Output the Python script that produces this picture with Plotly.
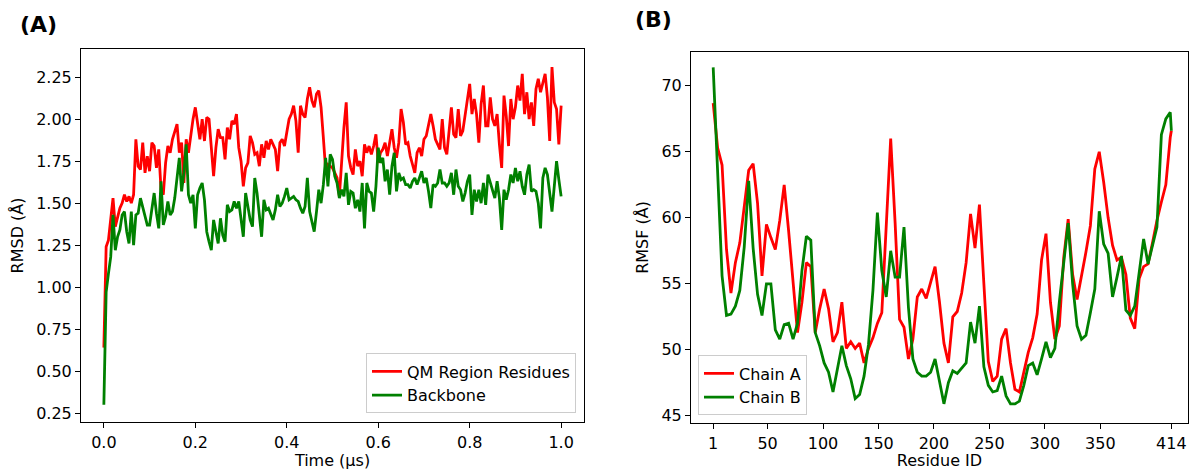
import plotly.graph_objects as go

# ---------------- data: RMSD (panel A) ----------------
time_us = [round(i * 0.005, 3) for i in range(201)]

rmsd_qm = [
    0.64, 1.24, 1.28, 1.42, 1.53, 1.36, 1.42, 1.47, 1.50, 1.55, 1.51, 1.54, 1.50, 1.55, 1.88, 1.72, 1.70, 1.86, 1.68, 1.78,
    1.69, 1.86, 1.84, 1.71, 1.82, 1.58, 1.55, 1.74, 1.84, 1.80, 1.88, 1.92, 1.97, 1.80, 1.86, 1.62, 1.88, 1.80, 1.91, 2.00,
    2.07, 1.98, 1.88, 2.00, 1.87, 2.01, 2.00, 1.83, 1.66, 1.83, 1.94, 1.89, 1.89, 1.76, 1.95, 1.88, 1.99, 1.97, 2.03, 1.83,
    1.75, 1.60, 1.71, 1.74, 1.90, 1.86, 1.79, 1.80, 1.72, 1.85, 1.77, 1.87, 1.82, 1.88, 1.85, 1.82, 1.69, 1.86, 1.88, 1.84,
    1.92, 2.00, 2.03, 2.08, 1.99, 1.80, 2.08, 2.03, 2.01, 2.12, 2.19, 2.11, 2.07, 2.15, 2.17, 2.07, 1.89, 1.70, 1.73, 1.72,
    1.71, 1.68, 1.65, 1.54, 1.75, 1.95, 2.10, 1.78, 1.71, 1.67, 1.82, 1.72, 1.75, 1.66, 1.85, 1.80, 1.84, 1.79, 1.84, 1.91,
    1.74, 1.80, 1.82, 1.86, 1.78, 1.86, 1.94, 1.83, 1.77, 1.86, 2.06, 1.98, 1.85, 1.86, 1.78, 1.73, 1.68, 1.80, 1.83, 1.78,
    1.88, 1.90, 1.96, 2.03, 1.96, 1.88, 1.85, 1.82, 2.00, 1.83, 1.79, 1.93, 2.07, 1.91, 1.89, 2.06, 1.90, 1.93, 2.02, 2.13,
    2.21, 2.03, 2.12, 2.03, 1.86, 2.09, 2.20, 1.96, 1.96, 2.13, 2.00, 1.96, 2.03, 1.85, 1.71, 2.14, 2.02, 1.84, 2.12, 2.00,
    2.07, 2.20, 2.11, 2.27, 2.03, 2.16, 2.00, 2.10, 1.96, 2.18, 2.24, 2.16, 2.22, 2.27, 2.13, 1.87, 2.31, 2.10, 2.06, 1.85,
    2.08,
]

rmsd_backbone = [
    0.30, 0.97, 1.08, 1.18, 1.43, 1.22, 1.30, 1.34, 1.43, 1.45, 1.33, 1.26, 1.45, 1.25, 1.43, 1.44, 1.53, 1.48, 1.42, 1.37,
    1.37, 1.48, 1.56, 1.44, 1.35, 1.63, 1.37, 1.42, 1.51, 1.43, 1.45, 1.53, 1.64, 1.77, 1.57, 1.68, 1.85, 1.55, 1.50, 1.55,
    1.35, 1.55, 1.59, 1.62, 1.52, 1.33, 1.27, 1.22, 1.40, 1.33, 1.26, 1.41, 1.31, 1.27, 1.49, 1.45, 1.46, 1.51, 1.47, 1.51,
    1.40, 1.30, 1.56, 1.47, 1.40, 1.36, 1.65, 1.56, 1.43, 1.30, 1.52, 1.46, 1.47, 1.43, 1.40, 1.46, 1.55, 1.48, 1.50, 1.54,
    1.59, 1.52, 1.53, 1.54, 1.52, 1.51, 1.47, 1.44, 1.48, 1.65, 1.45, 1.38, 1.33, 1.45, 1.58, 1.50, 1.61, 1.77, 1.60, 1.79,
    1.76, 1.66, 1.62, 1.53, 1.58, 1.54, 1.68, 1.49, 1.57, 1.56, 1.47, 1.52, 1.45, 1.62, 1.35, 1.62, 1.57, 1.56, 1.45, 1.60,
    1.83, 1.74, 1.77, 1.63, 1.70, 1.55, 1.72, 1.80, 1.57, 1.68, 1.64, 1.65, 1.61, 1.61, 1.59, 1.63, 1.65, 1.61, 1.65, 1.69,
    1.62, 1.65, 1.57, 1.47, 1.61, 1.60, 1.62, 1.70, 1.62, 1.62, 1.60, 1.62, 1.68, 1.55, 1.70, 1.60, 1.58, 1.51, 1.56, 1.63,
    1.67, 1.43, 1.58, 1.51, 1.58, 1.50, 1.62, 1.49, 1.67, 1.62, 1.58, 1.53, 1.63, 1.53, 1.34, 1.58, 1.52, 1.58, 1.67, 1.62,
    1.71, 1.63, 1.69, 1.60, 1.55, 1.67, 1.73, 1.57, 1.58, 1.57, 1.50, 1.35, 1.65, 1.71, 1.67, 1.55, 1.45, 1.60, 1.75, 1.64,
    1.54,
]

# ---------------- data: RMSF (panel B) ----------------
residue_id = list(range(1, 414, 4)) + [414]

rmsf_chain_a = [
    68.7, 65.3, 64.0, 57.6, 54.3, 56.6, 58.1, 60.8, 63.6, 64.1,
    61.1, 55.6, 59.5, 58.5, 57.6, 59.8, 62.5, 59.0, 55.1, 51.3,
    53.6, 56.6, 56.3, 51.3, 53.1, 54.6, 53.1, 50.6, 51.3, 53.6,
    50.1, 50.6, 50.1, 50.5, 49.0, 50.1, 50.9, 52.0, 52.8, 59.5,
    66.0, 59.6, 52.3, 51.7, 49.3, 50.8, 54.0, 54.6, 53.9, 55.1,
    56.3, 53.6, 50.5, 49.0, 52.5, 52.9, 54.3, 56.6, 60.3, 57.7,
    61.0, 55.0, 49.1, 47.6, 48.0, 50.8, 51.6, 49.0, 47.0, 46.8,
    48.3, 49.8, 50.9, 52.7, 56.8, 58.8, 53.6, 50.8, 51.8, 57.0,
    59.9, 55.7, 53.8, 55.5, 57.4, 59.4, 63.7, 65.0, 62.7, 60.0,
    57.9, 56.8, 57.0, 55.7, 52.4, 51.6, 55.4, 56.3, 56.5, 58.1,
    59.8, 61.2, 62.5, 66.1, 66.6,
]

rmsf_chain_b = [
    71.4, 64.0, 55.6, 52.6, 52.7, 53.3, 54.5, 57.8, 62.8, 57.7,
    54.2, 52.6, 55.0, 55.0, 51.5, 50.8, 51.9, 52.0, 50.8, 52.0,
    56.0, 58.6, 58.3, 51.3, 50.3, 49.0, 48.3, 46.8, 48.5, 50.3,
    48.8, 47.8, 46.3, 46.6, 48.0, 50.4, 54.5, 60.4, 56.0, 54.0,
    57.5, 55.5, 55.5, 59.3, 53.2, 49.3, 48.3, 48.0, 48.0, 48.3,
    49.3, 47.5, 45.9, 47.5, 48.4, 48.2, 48.6, 49.0, 52.1, 50.5,
    53.3, 48.7, 47.3, 46.8, 46.9, 48.0, 46.5, 45.9, 45.9, 46.1,
    47.3, 48.8, 49.0, 48.1, 49.3, 50.6, 49.4, 50.1, 53.6, 56.4,
    59.6, 55.0, 51.8, 50.8, 51.1, 52.8, 54.6, 60.5, 58.0, 57.3,
    54.0, 55.5, 57.1, 53.0, 52.6, 53.3, 55.9, 58.4, 56.5, 58.0,
    59.3, 66.3, 67.5, 68.0, 66.6,
]

rmsd_ticks = [0.25, 0.50, 0.75, 1.00, 1.25, 1.50, 1.75, 2.00, 2.25]
time_ticks = [0.0, 0.2, 0.4, 0.6, 0.8, 1.0]
rmsf_ticks = [45, 50, 55, 60, 65, 70]
residue_ticks = [1, 50, 100, 150, 200, 250, 300, 350, 414]

assert len(time_us) == len(rmsd_qm) == len(rmsd_backbone)
assert len(residue_id) == len(rmsf_chain_a) == len(rmsf_chain_b)

# ---------------- figure ----------------
W, H = 1191, 470
RED, GREEN = "#ff0000", "#008000"
FONT = "DejaVu Sans"
LW = 2.8

fig = go.Figure()
fig.add_trace(go.Scatter(x=time_us, y=rmsd_qm, mode="lines", name="QM Region Residues",
                         line=dict(color=RED, width=LW), xaxis="x", yaxis="y", legend="legend"))
fig.add_trace(go.Scatter(x=time_us, y=rmsd_backbone, mode="lines", name="Backbone",
                         line=dict(color=GREEN, width=LW), xaxis="x", yaxis="y", legend="legend"))
fig.add_trace(go.Scatter(x=residue_id, y=rmsf_chain_a, mode="lines", name="Chain A",
                         line=dict(color=RED, width=LW), xaxis="x2", yaxis="y2", legend="legend2"))
fig.add_trace(go.Scatter(x=residue_id, y=rmsf_chain_b, mode="lines", name="Chain B",
                         line=dict(color=GREEN, width=LW), xaxis="x2", yaxis="y2", legend="legend2"))

axis_common = dict(showline=True, linecolor="#000000", linewidth=1, mirror=True,
                   ticks="outside", ticklen=5, tickwidth=1, tickcolor="#000000",
                   showgrid=False, zeroline=False,
                   tickfont=dict(family=FONT, size=16, color="#000000"))

fig.update_layout(
    width=W, height=H,
    margin=dict(l=0, r=0, t=0, b=0),
    paper_bgcolor="white", plot_bgcolor="white",
    font=dict(family=FONT, size=16, color="#000000"),
    xaxis=dict(domain=[81 / W, 584 / W], range=[-0.05, 1.05], anchor="y",
               tickvals=time_ticks, tickformat=".1f",
               title=dict(text="Time (µs)", standoff=6, font=dict(family=FONT, size=16)),
               **axis_common),
    yaxis=dict(domain=[1 - 426 / H, 1 - 49 / H], range=[0.195, 2.42], anchor="x",
               tickvals=rmsd_ticks, tickformat=".2f",
               title=dict(text="RMSD (Å)", standoff=8, font=dict(family=FONT, size=16)),
               **axis_common),
    xaxis2=dict(domain=[691 / W, 1188 / W], range=[-19, 429], anchor="y2",
                tickvals=residue_ticks,
                title=dict(text="Residue ID", standoff=6, font=dict(family=FONT, size=16)),
                **axis_common),
    yaxis2=dict(domain=[1 - 427 / H, 1 - 52 / H], range=[44.42, 72.6], anchor="x2",
                tickvals=rmsf_ticks,
                title=dict(text="RMSF (Å)", standoff=8, font=dict(family=FONT, size=16)),
                **axis_common),
    legend=dict(x=576 / W, y=1 - 417 / H, xanchor="right", yanchor="bottom",
                bgcolor="rgba(255,255,255,0.8)", bordercolor="#cccccc", borderwidth=1,
                font=dict(family=FONT, size=16), tracegroupgap=0),
    legend2=dict(x=698 / W, y=1 - 419 / H, xanchor="left", yanchor="bottom",
                 bgcolor="rgba(255,255,255,0.8)", bordercolor="#cccccc", borderwidth=1,
                 font=dict(family=FONT, size=16), tracegroupgap=0),
    showlegend=True,
    annotations=[
        dict(text="<b>(A)</b>", x=38 / W, y=1 - 25 / H, xref="paper", yref="paper",
             xanchor="center", yanchor="middle", showarrow=False,
             font=dict(family=FONT, size=22, color="#000000")),
        dict(text="<b>(B)</b>", x=653 / W, y=1 - 20 / H, xref="paper", yref="paper",
             xanchor="center", yanchor="middle", showarrow=False,
             font=dict(family=FONT, size=22, color="#000000")),
    ],
)

fig.write_html(
    "out.html",
    config={"displayModeBar": False},
    post_script="document.body.style.margin='0';document.body.style.overflow='hidden';",
)
